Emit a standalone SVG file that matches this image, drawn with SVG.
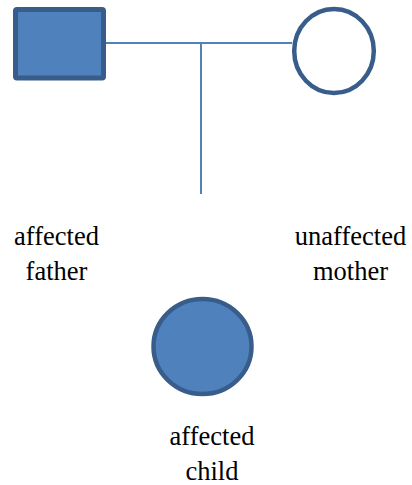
<svg xmlns="http://www.w3.org/2000/svg" width="412" height="485" viewBox="0 0 412 485">
<style>
.node{fill:#4F81BD;stroke:#385D8A;stroke-width:5}
.empty{fill:#FFFFFF;stroke:#385D8A;stroke-width:4.5}
.line{stroke:#4F81BD;stroke-width:2;fill:none}
</style>
<rect width="412" height="485" fill="#FFFFFF"/>
<g id="connectors">
<line class="line" x1="104" y1="43" x2="292" y2="43"/>
<line class="line" x1="201" y1="43" x2="201" y2="194"/>
</g>
<g font-family="Liberation Serif" font-size="26.5" fill="#000000" text-anchor="middle">
<g id="father">
<rect class="node" x="15.5" y="9.5" width="88" height="68.5" rx="1.5"/>
<text x="56.5" y="245">affected</text>
<text x="56.5" y="280">father</text>
</g>
<g id="mother">
<ellipse class="empty" cx="334" cy="51" rx="39.8" ry="42"/>
<text x="350.5" y="245">unaffected</text>
<text x="350.5" y="280">mother</text>
</g>
<g id="child">
<ellipse class="node" cx="202.5" cy="346.5" rx="49" ry="47.5" style="stroke-width:4.5"/>
<text x="212" y="445">affected</text>
<text x="212" y="480">child</text>
</g>
</g>
</svg>
